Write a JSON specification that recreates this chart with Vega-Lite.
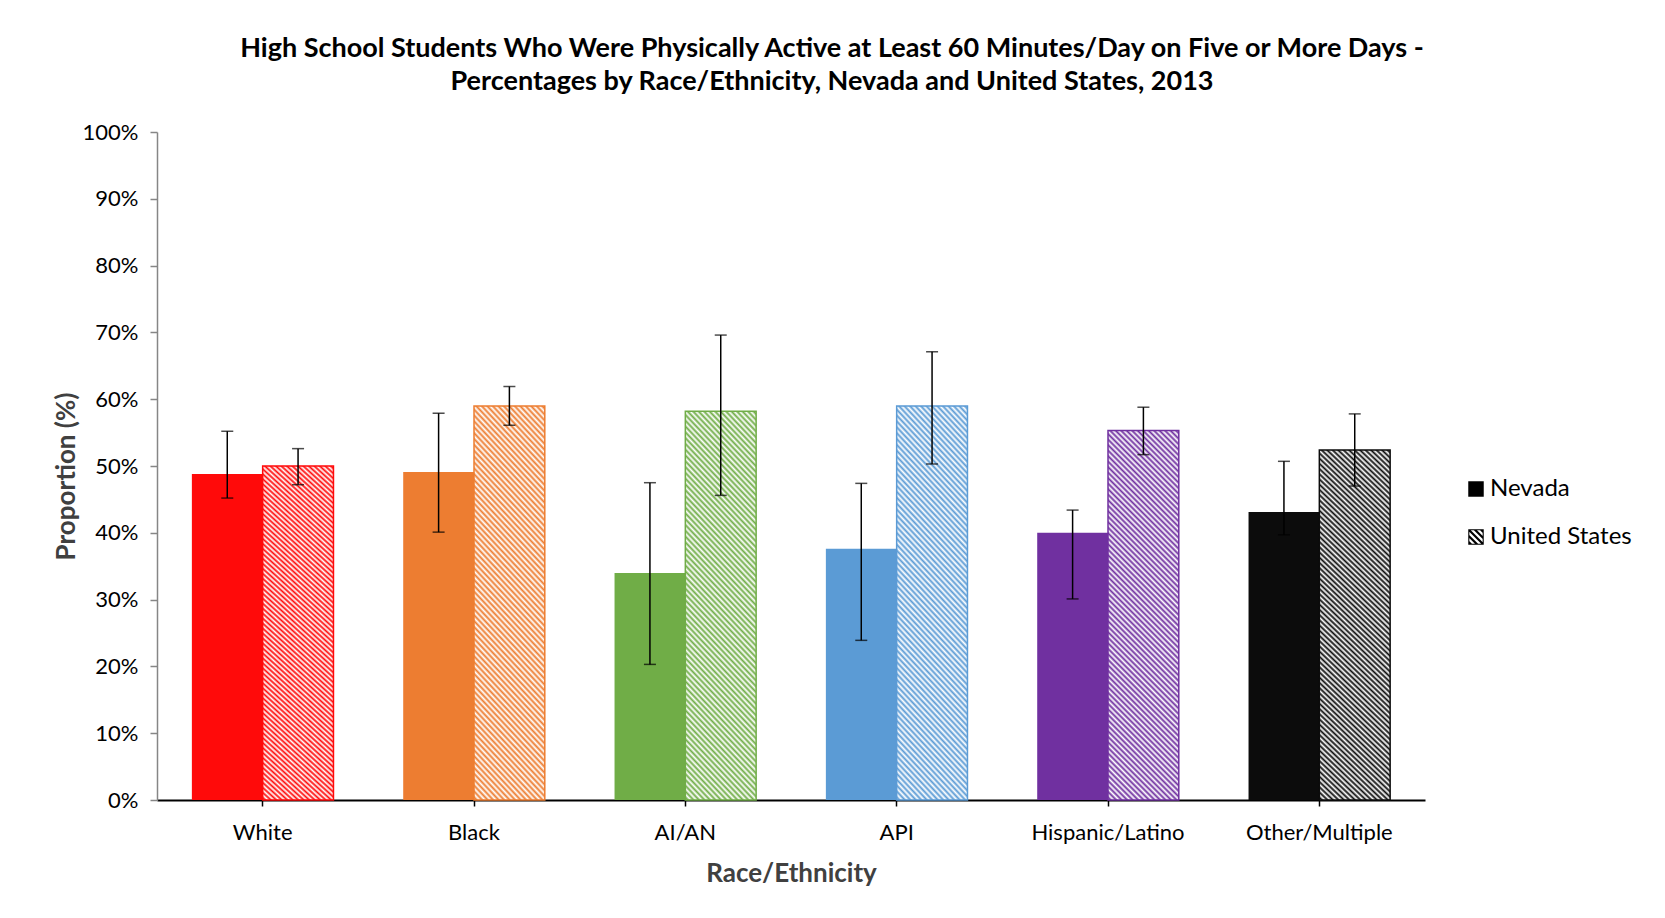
{
  "$schema": "https://vega.github.io/schema/vega-lite/v6.json",
  "width": 1268,
  "height": 668,
  "autosize": {"type": "none"},
  "padding": {"left": 157, "top": 132, "right": 240, "bottom": 118},
  "background": "white",
  "config": {
    "font": "Lato",
    "view": {"stroke": null},
    "axis": {"grid": false, "labelColor": "#000", "labelFontSize": 22, "titleFontSize": 26, "titleFontWeight": "bold", "titleColor": "#404040"}
  },
  "title": {
    "text": ["High School Students Who Were Physically Active at Least 60 Minutes/Day on Five or More Days -", "Percentages by Race/Ethnicity, Nevada and United States, 2013"],
    "fontSize": 27,
    "fontWeight": "bold",
    "color": "#000",
    "anchor": "middle",
    "frame": "group",
    "dx": 41,
    "offset": 25,
    "lineHeight": 33
  },
  "data": {
    "values": [
      {"Race": "White", "Country": "Nevada", "Value": 0.488, "Low": 0.452, "High": 0.552},
      {"Race": "White", "Country": "United States", "Value": 0.500, "Low": 0.472, "High": 0.526},
      {"Race": "Black", "Country": "Nevada", "Value": 0.491, "Low": 0.401, "High": 0.579},
      {"Race": "Black", "Country": "United States", "Value": 0.590, "Low": 0.561, "High": 0.619},
      {"Race": "AI/AN", "Country": "Nevada", "Value": 0.340, "Low": 0.203, "High": 0.475},
      {"Race": "AI/AN", "Country": "United States", "Value": 0.582, "Low": 0.456, "High": 0.696},
      {"Race": "API", "Country": "Nevada", "Value": 0.376, "Low": 0.239, "High": 0.474},
      {"Race": "API", "Country": "United States", "Value": 0.590, "Low": 0.503, "High": 0.671},
      {"Race": "Hispanic/Latino", "Country": "Nevada", "Value": 0.400, "Low": 0.301, "High": 0.434},
      {"Race": "Hispanic/Latino", "Country": "United States", "Value": 0.553, "Low": 0.517, "High": 0.588},
      {"Race": "Other/Multiple", "Country": "Nevada", "Value": 0.431, "Low": 0.397, "High": 0.507},
      {"Race": "Other/Multiple", "Country": "United States", "Value": 0.524, "Low": 0.470, "High": 0.578}
    ]
  },
  "encoding": {
    "x": {
      "field": "Race", "type": "nominal",
      "sort": ["White", "Black", "AI/AN", "API", "Hispanic/Latino", "Other/Multiple"],
      "scale": {"paddingInner": 0.33, "paddingOuter": 0.165},
      "axis": {"title": "Race/Ethnicity", "labelAngle": 0, "domainColor": "#000", "domainWidth": 2, "tickColor": "#000", "tickWidth": 1.5, "tickSize": 6, "labelPadding": 16, "titlePadding": 17}
    },
    "xOffset": {
      "field": "Country", "type": "nominal",
      "scale": {"domain": ["Nevada", "United States"], "paddingInner": 0, "paddingOuter": 0}
    }
  },
  "layer": [
    {
      "mark": {"type": "bar"},
      "encoding": {
        "y": {
          "field": "Value", "type": "quantitative", "title": "Proportion (%)",
          "scale": {"domain": [0, 1]},
          "axis": {"values": [0, 0.1, 0.2, 0.3, 0.4, 0.5, 0.6, 0.7, 0.8, 0.9, 1], "format": ".0%", "domainColor": "#868686", "domainWidth": 1.5, "tickColor": "#868686", "tickWidth": 1.5, "tickSize": 7, "labelPadding": 12, "titlePadding": 3, "titleY": 344}
        },
        "color": {
          "field": "Race", "type": "nominal",
          "scale": {"domain": ["White", "Black", "AI/AN", "API", "Hispanic/Latino", "Other/Multiple"], "range": ["#FF0A0A", "#ED7D31", "#70AD47", "#5B9BD5", "#7030A0", "#0C0C0C"]},
          "legend": null
        }
      }
    },
    {
      "transform": [{"filter": "datum.Country === 'United States'"}],
      "mark": {
        "type": "bar",
        "strokeWidth": 1.5,
        "fill": {
          "gradient": "linear", "x1": 0, "y1": 1, "x2": 0.2211, "y2": -0.1497,
          "stops": [
            {"offset": 0, "color": "#ffffff"}, {"offset": 0.00625, "color": "rgba(255,255,255,0)"}, {"offset": 0.0125, "color": "#ffffff"}, {"offset": 0.01875, "color": "rgba(255,255,255,0)"}, {"offset": 0.025, "color": "#ffffff"}, {"offset": 0.03125, "color": "rgba(255,255,255,0)"}, {"offset": 0.0375, "color": "#ffffff"}, {"offset": 0.04375, "color": "rgba(255,255,255,0)"}, {"offset": 0.05, "color": "#ffffff"}, {"offset": 0.05625, "color": "rgba(255,255,255,0)"}, {"offset": 0.0625, "color": "#ffffff"}, {"offset": 0.06875, "color": "rgba(255,255,255,0)"}, {"offset": 0.075, "color": "#ffffff"}, {"offset": 0.08125, "color": "rgba(255,255,255,0)"}, {"offset": 0.0875, "color": "#ffffff"}, {"offset": 0.09375, "color": "rgba(255,255,255,0)"},
            {"offset": 0.1, "color": "#ffffff"}, {"offset": 0.10625, "color": "rgba(255,255,255,0)"}, {"offset": 0.1125, "color": "#ffffff"}, {"offset": 0.11875, "color": "rgba(255,255,255,0)"}, {"offset": 0.125, "color": "#ffffff"}, {"offset": 0.13125, "color": "rgba(255,255,255,0)"}, {"offset": 0.1375, "color": "#ffffff"}, {"offset": 0.14375, "color": "rgba(255,255,255,0)"}, {"offset": 0.15, "color": "#ffffff"}, {"offset": 0.15625, "color": "rgba(255,255,255,0)"}, {"offset": 0.1625, "color": "#ffffff"}, {"offset": 0.16875, "color": "rgba(255,255,255,0)"}, {"offset": 0.175, "color": "#ffffff"}, {"offset": 0.18125, "color": "rgba(255,255,255,0)"}, {"offset": 0.1875, "color": "#ffffff"}, {"offset": 0.19375, "color": "rgba(255,255,255,0)"},
            {"offset": 0.2, "color": "#ffffff"}, {"offset": 0.20625, "color": "rgba(255,255,255,0)"}, {"offset": 0.2125, "color": "#ffffff"}, {"offset": 0.21875, "color": "rgba(255,255,255,0)"}, {"offset": 0.225, "color": "#ffffff"}, {"offset": 0.23125, "color": "rgba(255,255,255,0)"}, {"offset": 0.2375, "color": "#ffffff"}, {"offset": 0.24375, "color": "rgba(255,255,255,0)"}, {"offset": 0.25, "color": "#ffffff"}, {"offset": 0.25625, "color": "rgba(255,255,255,0)"}, {"offset": 0.2625, "color": "#ffffff"}, {"offset": 0.26875, "color": "rgba(255,255,255,0)"}, {"offset": 0.275, "color": "#ffffff"}, {"offset": 0.28125, "color": "rgba(255,255,255,0)"}, {"offset": 0.2875, "color": "#ffffff"}, {"offset": 0.29375, "color": "rgba(255,255,255,0)"},
            {"offset": 0.3, "color": "#ffffff"}, {"offset": 0.30625, "color": "rgba(255,255,255,0)"}, {"offset": 0.3125, "color": "#ffffff"}, {"offset": 0.31875, "color": "rgba(255,255,255,0)"}, {"offset": 0.325, "color": "#ffffff"}, {"offset": 0.33125, "color": "rgba(255,255,255,0)"}, {"offset": 0.3375, "color": "#ffffff"}, {"offset": 0.34375, "color": "rgba(255,255,255,0)"}, {"offset": 0.35, "color": "#ffffff"}, {"offset": 0.35625, "color": "rgba(255,255,255,0)"}, {"offset": 0.3625, "color": "#ffffff"}, {"offset": 0.36875, "color": "rgba(255,255,255,0)"}, {"offset": 0.375, "color": "#ffffff"}, {"offset": 0.38125, "color": "rgba(255,255,255,0)"}, {"offset": 0.3875, "color": "#ffffff"}, {"offset": 0.39375, "color": "rgba(255,255,255,0)"},
            {"offset": 0.4, "color": "#ffffff"}, {"offset": 0.40625, "color": "rgba(255,255,255,0)"}, {"offset": 0.4125, "color": "#ffffff"}, {"offset": 0.41875, "color": "rgba(255,255,255,0)"}, {"offset": 0.425, "color": "#ffffff"}, {"offset": 0.43125, "color": "rgba(255,255,255,0)"}, {"offset": 0.4375, "color": "#ffffff"}, {"offset": 0.44375, "color": "rgba(255,255,255,0)"}, {"offset": 0.45, "color": "#ffffff"}, {"offset": 0.45625, "color": "rgba(255,255,255,0)"}, {"offset": 0.4625, "color": "#ffffff"}, {"offset": 0.46875, "color": "rgba(255,255,255,0)"}, {"offset": 0.475, "color": "#ffffff"}, {"offset": 0.48125, "color": "rgba(255,255,255,0)"}, {"offset": 0.4875, "color": "#ffffff"}, {"offset": 0.49375, "color": "rgba(255,255,255,0)"},
            {"offset": 0.5, "color": "#ffffff"}, {"offset": 0.50625, "color": "rgba(255,255,255,0)"}, {"offset": 0.5125, "color": "#ffffff"}, {"offset": 0.51875, "color": "rgba(255,255,255,0)"}, {"offset": 0.525, "color": "#ffffff"}, {"offset": 0.53125, "color": "rgba(255,255,255,0)"}, {"offset": 0.5375, "color": "#ffffff"}, {"offset": 0.54375, "color": "rgba(255,255,255,0)"}, {"offset": 0.55, "color": "#ffffff"}, {"offset": 0.55625, "color": "rgba(255,255,255,0)"}, {"offset": 0.5625, "color": "#ffffff"}, {"offset": 0.56875, "color": "rgba(255,255,255,0)"}, {"offset": 0.575, "color": "#ffffff"}, {"offset": 0.58125, "color": "rgba(255,255,255,0)"}, {"offset": 0.5875, "color": "#ffffff"}, {"offset": 0.59375, "color": "rgba(255,255,255,0)"},
            {"offset": 0.6, "color": "#ffffff"}, {"offset": 0.60625, "color": "rgba(255,255,255,0)"}, {"offset": 0.6125, "color": "#ffffff"}, {"offset": 0.61875, "color": "rgba(255,255,255,0)"}, {"offset": 0.625, "color": "#ffffff"}, {"offset": 0.63125, "color": "rgba(255,255,255,0)"}, {"offset": 0.6375, "color": "#ffffff"}, {"offset": 0.64375, "color": "rgba(255,255,255,0)"}, {"offset": 0.65, "color": "#ffffff"}, {"offset": 0.65625, "color": "rgba(255,255,255,0)"}, {"offset": 0.6625, "color": "#ffffff"}, {"offset": 0.66875, "color": "rgba(255,255,255,0)"}, {"offset": 0.675, "color": "#ffffff"}, {"offset": 0.68125, "color": "rgba(255,255,255,0)"}, {"offset": 0.6875, "color": "#ffffff"}, {"offset": 0.69375, "color": "rgba(255,255,255,0)"},
            {"offset": 0.7, "color": "#ffffff"}, {"offset": 0.70625, "color": "rgba(255,255,255,0)"}, {"offset": 0.7125, "color": "#ffffff"}, {"offset": 0.71875, "color": "rgba(255,255,255,0)"}, {"offset": 0.725, "color": "#ffffff"}, {"offset": 0.73125, "color": "rgba(255,255,255,0)"}, {"offset": 0.7375, "color": "#ffffff"}, {"offset": 0.74375, "color": "rgba(255,255,255,0)"}, {"offset": 0.75, "color": "#ffffff"}, {"offset": 0.75625, "color": "rgba(255,255,255,0)"}, {"offset": 0.7625, "color": "#ffffff"}, {"offset": 0.76875, "color": "rgba(255,255,255,0)"}, {"offset": 0.775, "color": "#ffffff"}, {"offset": 0.78125, "color": "rgba(255,255,255,0)"}, {"offset": 0.7875, "color": "#ffffff"}, {"offset": 0.79375, "color": "rgba(255,255,255,0)"},
            {"offset": 0.8, "color": "#ffffff"}, {"offset": 0.80625, "color": "rgba(255,255,255,0)"}, {"offset": 0.8125, "color": "#ffffff"}, {"offset": 0.81875, "color": "rgba(255,255,255,0)"}, {"offset": 0.825, "color": "#ffffff"}, {"offset": 0.83125, "color": "rgba(255,255,255,0)"}, {"offset": 0.8375, "color": "#ffffff"}, {"offset": 0.84375, "color": "rgba(255,255,255,0)"}, {"offset": 0.85, "color": "#ffffff"}, {"offset": 0.85625, "color": "rgba(255,255,255,0)"}, {"offset": 0.8625, "color": "#ffffff"}, {"offset": 0.86875, "color": "rgba(255,255,255,0)"}, {"offset": 0.875, "color": "#ffffff"}, {"offset": 0.88125, "color": "rgba(255,255,255,0)"}, {"offset": 0.8875, "color": "#ffffff"}, {"offset": 0.89375, "color": "rgba(255,255,255,0)"},
            {"offset": 0.9, "color": "#ffffff"}, {"offset": 0.90625, "color": "rgba(255,255,255,0)"}, {"offset": 0.9125, "color": "#ffffff"}, {"offset": 0.91875, "color": "rgba(255,255,255,0)"}, {"offset": 0.925, "color": "#ffffff"}, {"offset": 0.93125, "color": "rgba(255,255,255,0)"}, {"offset": 0.9375, "color": "#ffffff"}, {"offset": 0.94375, "color": "rgba(255,255,255,0)"}, {"offset": 0.95, "color": "#ffffff"}, {"offset": 0.95625, "color": "rgba(255,255,255,0)"}, {"offset": 0.9625, "color": "#ffffff"}, {"offset": 0.96875, "color": "rgba(255,255,255,0)"}, {"offset": 0.975, "color": "#ffffff"}, {"offset": 0.98125, "color": "rgba(255,255,255,0)"}, {"offset": 0.9875, "color": "#ffffff"}, {"offset": 0.99375, "color": "rgba(255,255,255,0)"},
            {"offset": 1, "color": "#ffffff"}
          ]
        }
      },
      "encoding": {
        "y": {"field": "Value", "type": "quantitative", "title": "Proportion (%)"},
        "stroke": {
          "field": "Race", "type": "nominal",
          "scale": {"domain": ["White", "Black", "AI/AN", "API", "Hispanic/Latino", "Other/Multiple"], "range": ["#FF0A0A", "#ED7D31", "#70AD47", "#5B9BD5", "#7030A0", "#0C0C0C"]},
          "legend": null
        }
      }
    },
    {
      "mark": {"type": "rule", "color": "#000", "strokeWidth": 1.5},
      "encoding": {
        "y": {"field": "Low", "type": "quantitative", "title": "Proportion (%)"},
        "y2": {"field": "High"}
      }
    },
    {
      "mark": {"type": "tick", "color": "#000", "thickness": 1.5, "size": 12},
      "encoding": {
        "y": {"field": "Low", "type": "quantitative", "title": "Proportion (%)"}
      }
    },
    {
      "mark": {"type": "tick", "color": "#000", "thickness": 1.5, "size": 12},
      "encoding": {
        "y": {"field": "High", "type": "quantitative", "title": "Proportion (%)"}
      }
    },
    {
      "mark": {"type": "point", "filled": true, "color": "#000", "opacity": 0},
      "encoding": {
        "y": {"field": "Value", "type": "quantitative", "title": "Proportion (%)"},
        "shape": {
          "field": "Country", "type": "nominal",
          "scale": {
            "domain": ["Nevada", "United States"],
            "range": ["square", "M-1,-1H1V1H-1Z M-0.86,-0.86V0.86H0.86V-0.86Z M-1,-1L-0.8,-1L1,0.8L1,1L0.8,1L-1,-0.8Z M-0.4,-1L0,-1L1,0L1,0.4Z M0.4,-1L0.8,-1L1,-0.8L1,-0.4Z M-1,-0.4L0.4,1L0,1L-1,0Z M-1,0.4L-0.4,1L-0.8,1L-1,0.8Z"]
          },
          "legend": {
            "title": null,
            "orient": "none",
            "legendX": 1307,
            "legendY": 345,
            "symbolSize": 240,
            "symbolOpacity": 1,
            "symbolFillColor": "#000",
            "symbolStrokeWidth": 0,
            "labelFontSize": 24,
            "labelColor": "#000",
            "labelOffset": 2,
            "rowPadding": 24
          }
        }
      }
    }
  ]
}
